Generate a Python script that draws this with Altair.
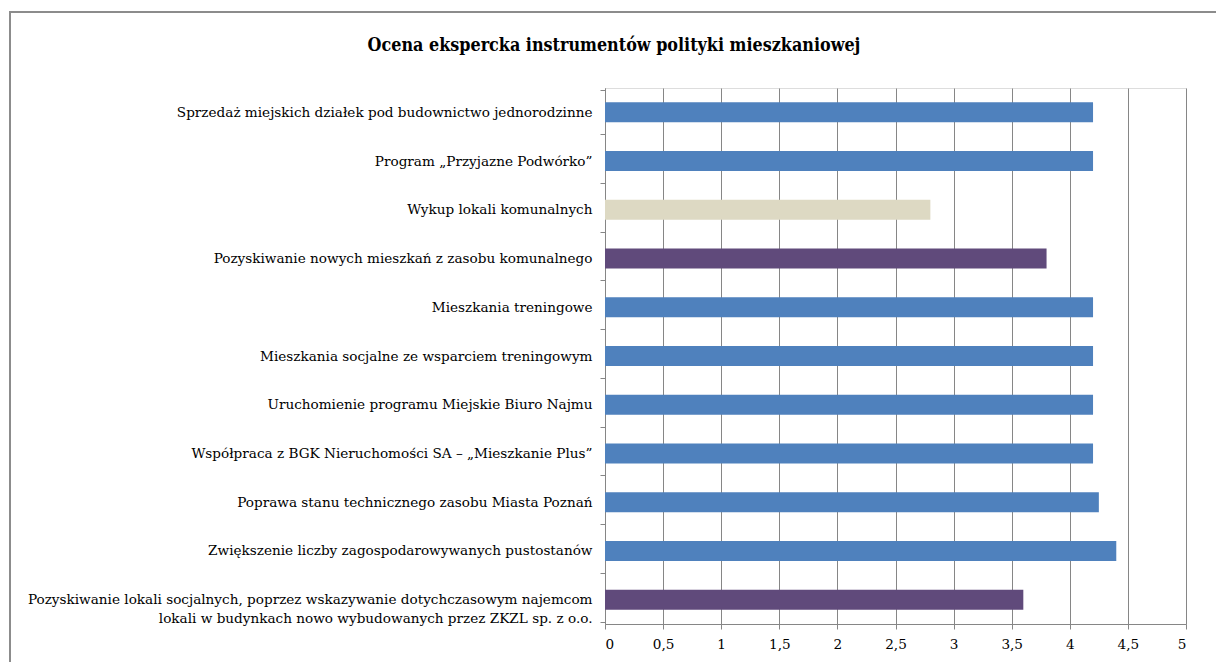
import altair as alt
import pandas as pd

categories = [
    "Sprzedaż miejskich działek pod budownictwo jednorodzinne",
    "Program „Przyjazne Podwórko”",
    "Wykup lokali komunalnych",
    "Pozyskiwanie nowych mieszkań z zasobu komunalnego",
    "Mieszkania treningowe",
    "Mieszkania socjalne ze wsparciem treningowym",
    "Uruchomienie programu Miejskie Biuro Najmu",
    "Współpraca z BGK Nieruchomości SA – „Mieszkanie Plus”",
    "Poprawa stanu technicznego zasobu Miasta Poznań",
    "Zwiększenie liczby zagospodarowywanych pustostanów",
    "Pozyskiwanie lokali socjalnych, poprzez wskazywanie dotychczasowym najemcom|lokali w budynkach nowo wybudowanych przez ZKZL sp. z o.o.",
]
values = [4.2, 4.2, 2.8, 3.8, 4.2, 4.2, 4.2, 4.2, 4.25, 4.4, 3.6]
groups = ["a", "a", "b", "c", "a", "a", "a", "a", "a", "a", "c"]
group_domain = ["a", "b", "c"]
group_colors = ["#4F81BD", "#DDD9C3", "#604A7B"]
x_ticks = [0, 0.5, 1, 1.5, 2, 2.5, 3, 3.5, 4, 4.5, 5]
title_text = ["Ocena ekspercka instrumentów polityki mieszkaniowej"]

df = pd.DataFrame({"kategoria": categories, "ocena": values, "grupa": groups})
tdf = pd.DataFrame({"t": title_text})

FONT = "DejaVu Serif"

bars = alt.Chart(df).mark_bar(size=20).encode(
    y=alt.Y("kategoria:N", sort=categories, title=None,
            axis=alt.Axis(labelExpr="split(datum.label, '|')", labelFont=FONT,
                          labelFontSize=13.6, labelColor="#000000", labelPadding=8,
                          labelLimit=600, tickBand="extent", tickSize=5,
                          tickColor="#868686", domainColor="#868686",
                          labelLineHeight=19)),
    x=alt.X("ocena:Q", title=None, scale=alt.Scale(domain=[0, 5], nice=False),
            axis=alt.Axis(values=x_ticks, labelExpr="replace(toString(datum.value), '.', ',')",
                          labelFont=FONT, labelFontSize=13.6, labelColor="#000000",
                          grid=True, gridColor="#868686", gridWidth=1,
                          tickColor="#868686", tickSize=5, domainColor="#868686",
                          labelPadding=8)),
    color=alt.Color("grupa:N", scale=alt.Scale(domain=group_domain, range=group_colors), legend=None),
)

frame = alt.Chart(df).mark_rect(fillOpacity=0, stroke="#8c8c8c", strokeWidth=2).encode(
    x=alt.value(-595), x2=alt.value(640), y=alt.value(-76), y2=alt.value(620)
)

title = alt.Chart(tdf).mark_text(font="DejaVu Serif Condensed", fontSize=17.8, fontWeight="bold",
                                 color="#000000", align="center", baseline="middle").encode(
    text="t:N", x=alt.value(9), y=alt.value(-42)
)

chart = alt.layer(frame, bars, title).properties(
    width=581,
    height=536,
    autosize=alt.AutoSizeParams(type="none"),
    padding={"left": 605, "top": 88, "right": 30, "bottom": 38},
).configure_view(stroke=None).configure(background="white")

chart.save("out.html", embed_options={"renderer": "svg", "actions": False})
